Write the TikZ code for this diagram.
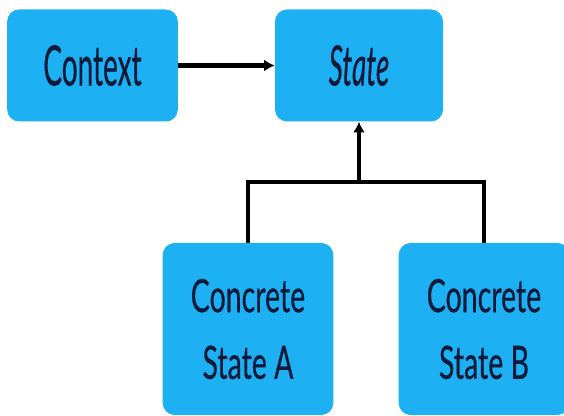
\documentclass[tikz,border=0pt]{standalone}
\usepackage{fontspec}
\setmainfont{Lato}
\newfontfamily\boxfont{Lato}[FakeBold=0.6]
\usetikzlibrary{arrows.meta,positioning,calc}
\definecolor{SkyFill}{HTML}{1DB0F2}
\definecolor{InkNavy}{HTML}{0E1A3A}
\tikzset{
    block/.style = {fill=SkyFill, rounded corners=9pt, text=InkNavy,
        align=center, inner sep=0pt},
    topblock/.style = {block, minimum width=128pt, minimum height=84pt,
        font=\boxfont\fontsize{42}{50}\selectfont},
    subblock/.style = {block, minimum width=128pt, minimum height=129pt,
        font=\boxfont\fontsize{34.5}{50}\selectfont},
    arrow/.style = {draw, line width=3.3pt, -{Latex[length=8pt,width=9pt]}},
    link/.style = {draw, line width=2.3pt}
}
\newcommand{\squeeze}[1]{\scalebox{0.62}[1]{#1}}
\newcommand{\narrow}[1]{\scalebox{0.5}[1]{#1}}

\begin{document}
\begin{tikzpicture}[x=0.75pt, y=-0.75pt]
    \useasboundingbox (0,0) rectangle (564,416);
    \node [topblock] (context) at (92.5,65.5) {\narrow{Context}};
    \node [topblock, minimum width=126pt] (state) at (359,65.5) {\narrow{\itshape State}};
    \node [subblock] (concA) at (248,329) {\squeeze{Concrete}\\\squeeze{State A}};
    \node [subblock] (concB) at (484,329) {\squeeze{Concrete}\\\squeeze{State B}};
    \draw [arrow] (context) -- (state);
    % common bar under State
    \coordinate (bar) at (359,182);
    \draw [link] (concA.north) |- (bar) -| (concB.north);
    \draw [arrow, line width=2.3pt] (bar) -- (state.south);
\end{tikzpicture}
\end{document}
